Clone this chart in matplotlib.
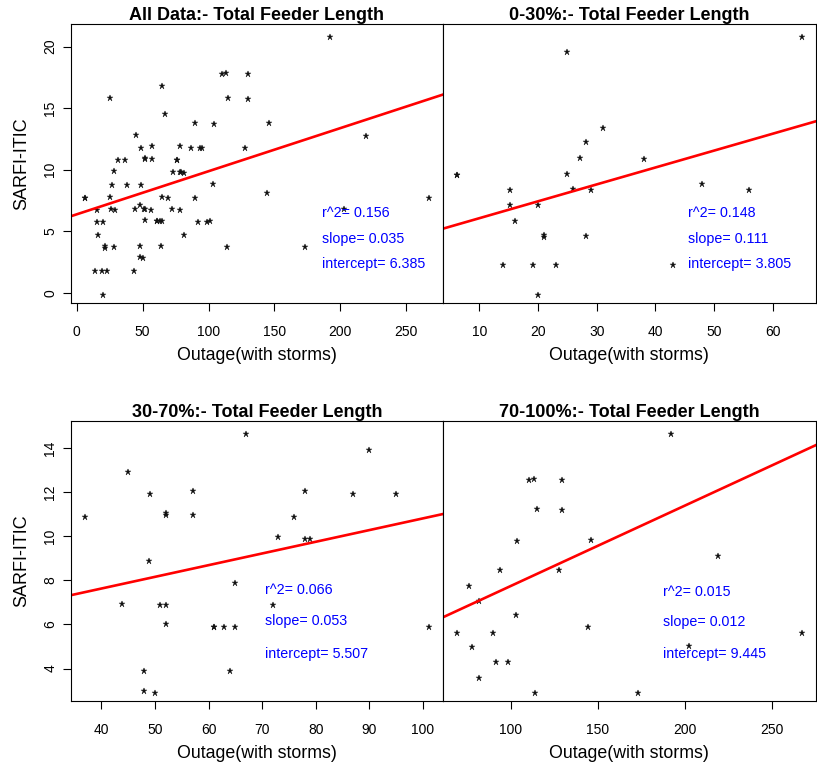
import matplotlib
matplotlib.use("Agg")
import matplotlib.pyplot as plt
from matplotlib.ticker import MultipleLocator
from matplotlib import transforms

plt.rcParams['font.family'] = ['Liberation Sans', 'DejaVu Sans']

# ---- data: outage (with storms) vs SARFI-ITIC, split by total feeder length percentile ----
# 0-30 %
x_low = [6.1, 6.1, 25.0, 31.1, 28.1, 27.1, 25.0, 26.0, 29.0, 15.2, 15.2, 20.0, 16.1,
         21.1, 21.1, 28.1, 14.0, 19.1, 23.0, 20.0, 65.0, 38.0, 48.0, 56.0, 43.1]
y_low = [7.9, 7.9, 16.0, 11.0, 10.1, 9.0, 7.95, 7.0, 6.95, 6.95, 5.95, 5.95, 4.9,
         4.0, 3.85, 3.9, 2.0, 2.0, 2.0, 0.0, 17.0, 8.95, 7.35, 6.95, 2.0]
# 30-70 %
x_mid = [36.9, 45.0, 49.0, 52.0, 52.0, 57.0, 57.0, 66.9, 48.9, 64.9, 43.9, 51.0, 52.0,
         52.0, 61.0, 61.0, 62.9, 64.9, 48.0, 64.0, 48.0, 50.0, 90.0, 78.0, 87.0, 94.9,
         75.9, 73.0, 78.0, 78.9, 72.0, 101.1]
y_mid = [11.0, 13.0, 12.0, 11.15, 11.05, 12.15, 11.05, 14.75, 9.0, 8.0, 7.05, 7.0, 7.0,
         6.15, 6.0, 6.0, 6.0, 6.0, 4.0, 4.0, 3.1, 3.0, 14.0, 12.15, 12.0, 12.0,
         11.0, 10.05, 10.0, 10.0, 7.0, 6.0]
# 70-100 %
x_high = [110.5, 113.4, 129.6, 115.1, 129.6, 103.8, 146.0, 93.7, 127.9, 75.9, 81.7,
          103.2, 144.7, 69.0, 89.7, 78.0, 91.7, 98.6, 81.7, 113.9, 191.9, 219.3,
          267.2, 202.6, 173.2]
y_high = [17.95, 18.05, 17.95, 16.05, 15.95, 13.95, 14.0, 12.0, 12.0, 11.0, 9.95,
          9.05, 8.3, 7.9, 7.9, 6.95, 5.97, 5.97, 4.92, 3.94, 21.0, 12.95,
          7.9, 7.0, 3.92]

x_all = x_low + x_mid + x_high
y_all = y_low + y_mid + y_high

titles = ["All Data:- Total Feeder Length", "0-30%:- Total Feeder Length",
          "30-70%:- Total Feeder Length", "70-100%:- Total Feeder Length"]
r2_vals = [0.156, 0.148, 0.066, 0.015]
slope_vals = [0.035, 0.111, 0.053, 0.012]
intercept_vals = [6.385, 3.805, 5.507, 9.445]
# which fit's coefficients are used for the red line in each panel
line_fit = [0, 1, 2, 2]

x_label = "Outage(with storms)"
y_label = "SARFI-ITIC"

# ---- layout (pixel boxes: left, top, right, bottom) ----
W, H = 817, 769
fig = plt.figure(figsize=(W / 100, H / 100), dpi=100)

boxes = [(71, 24, 442.7, 303.3), (442.7, 24, 815.7, 303.3),
         (71, 421, 442.7, 701), (442.7, 421, 815.7, 701)]
x_steps = [50, 10, 10, 50]
y_steps = [5, 5, 2, 2]
show_y = [True, False, True, False]
text_pos = [(0.676, [0.324, 0.231, 0.141]),
            (0.658, [0.324, 0.231, 0.140]),
            (0.523, [0.395, 0.286, 0.167]),
            (0.590, [0.390, 0.281, 0.167])]
series = [(x_all, y_all), (x_low, y_low), (x_mid, y_mid), (x_high, y_high)]


def padded(vals, frac=0.04):
    lo, hi = min(vals), max(vals)
    r = hi - lo
    return lo - frac * r, hi + frac * r


for i, (l, t, r, b) in enumerate(boxes):
    ax = fig.add_axes([l / W, 1 - b / H, (r - l) / W, (b - t) / H])
    xs, ys = series[i]
    ax.set_xlim(*padded(xs))
    ax.set_ylim(*padded(ys))

    star_tr = ax.transData + transforms.ScaledTranslation(0, -2.4 / 100, fig.dpi_scale_trans)
    ax.plot(xs, ys, ls='none', marker='*', ms=5.0, color='#111111',
            markeredgewidth=0.3, transform=star_tr)

    k = line_fit[i]
    ax.axline((0, intercept_vals[k]), slope=slope_vals[k], color='#ff0000', lw=1.9)

    fx, fys = text_pos[i]
    for fy, txt in zip(fys, [f"r^2= {r2_vals[i]:.3f}", f"slope= {slope_vals[i]:.3f}",
                             f"intercept= {intercept_vals[i]:.3f}"]):
        ax.text(fx, fy, txt, transform=ax.transAxes, color='#0000ff', fontsize=10.3,
                ha='left', va='center')

    ax.set_title(titles[i], fontsize=13, fontweight='bold', pad=0)

    for sp in ax.spines.values():
        sp.set_linewidth(0.8)
        sp.set_color('black')

    ax.xaxis.set_major_locator(MultipleLocator(x_steps[i]))
    ax.tick_params(axis='x', direction='out', length=5.8, width=0.8, labelsize=10, pad=10)
    ax.set_xlabel(x_label, fontsize=12.8, va='center')
    ax.xaxis.set_label_coords(0.5, -(356 - 303.3) / 279.3)

    if show_y[i]:
        ax.yaxis.set_major_locator(MultipleLocator(y_steps[i]))
        ax.tick_params(axis='y', direction='out', length=5.8, width=0.8, labelsize=10, pad=4)
        for lab in ax.get_yticklabels():
            lab.set_rotation(90)
            lab.set_va('center')
        ax.set_ylabel(y_label, fontsize=13, va='center')
        ax.yaxis.set_label_coords(-(71 - 22) / (r - l), 0.5)
    else:
        ax.set_yticks([])

fig.savefig("out.png", dpi=100, facecolor='white')
